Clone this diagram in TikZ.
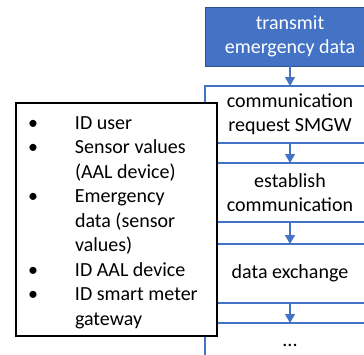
\documentclass[tikz,border=0pt]{standalone}
\usepackage{fontspec}
\setmainfont{Carlito}
\usetikzlibrary{arrows.meta}
\definecolor{lanebl}{HTML}{4472C4}
\definecolor{darkbl}{HTML}{2F528F}
\begin{document}
\begin{tikzpicture}[x=1pt,y=-1pt,
  every node/.style={font=\fontsize{20}{24}\selectfont, outer sep=0pt},
  stepbox/.style={draw=lanebl, line width=1.2pt, fill=white, minimum width=170pt, inner sep=0pt, align=center},
  headbox/.style={draw=darkbl, fill=lanebl, line width=1pt, text=white, minimum width=170pt, minimum height=59pt, inner sep=0pt, align=center},
  flow/.style={draw=lanebl, line width=1.2pt, -{Triangle[width=10pt,length=9pt]}},
  laneline/.style={draw=lanebl, line width=1.2pt},
  infobox/.style={draw=black, line width=1.2pt, fill=white, minimum width=201pt, minimum height=233pt, inner sep=0pt},
  infotext/.style={inner sep=0pt, font=\fontsize{20}{24.5}\selectfont}
]
\useasboundingbox (0,0) rectangle (364,354);
\clip (0,0) rectangle (364,354);
\node[headbox] (head) at (290,36.5) {\raisebox{-2pt}{\parbox{170pt}{\centering transmit\\emergency data}}};
\node[stepbox, minimum height=57pt] (b1) at (290,114.5) {\raisebox{-1.5pt}{\parbox{170pt}{\centering communication\\request SMGW}}};
\node[stepbox, minimum height=59pt] (b2) at (290,192.5) {establish\\communication};
\node[stepbox, minimum height=59pt] (b3) at (290,273.5) {\raisebox{-2pt}{data exchange}};
\node[stepbox, minimum height=45pt] (b4) at (290,345.5) {...};
\coordinate (laneend) at (205,370);
\draw[laneline] (b1.north west) -- (laneend);
\draw[flow] (head.south) -- (b1.north);
\draw[flow] (b1.south) -- (b2.north);
\draw[flow] (b2.south) -- (b3.north);
\draw[flow] (b3.south) -- (b4.north);
\node[infobox, anchor=north west] (info) at (16,103) {};
\node[infotext, anchor=north west] (infolist) at (28,111.85) {%
\begin{tabular}{@{}p{47pt}@{}l@{}}
• & ID user\\
• & Sensor values\\
  & (AAL device)\\
• & Emergency\\
  & data (sensor\\
  & values)\\
• & ID AAL device\\
• & ID smart meter\\
  & gateway
\end{tabular}};
\end{tikzpicture}
\end{document}
